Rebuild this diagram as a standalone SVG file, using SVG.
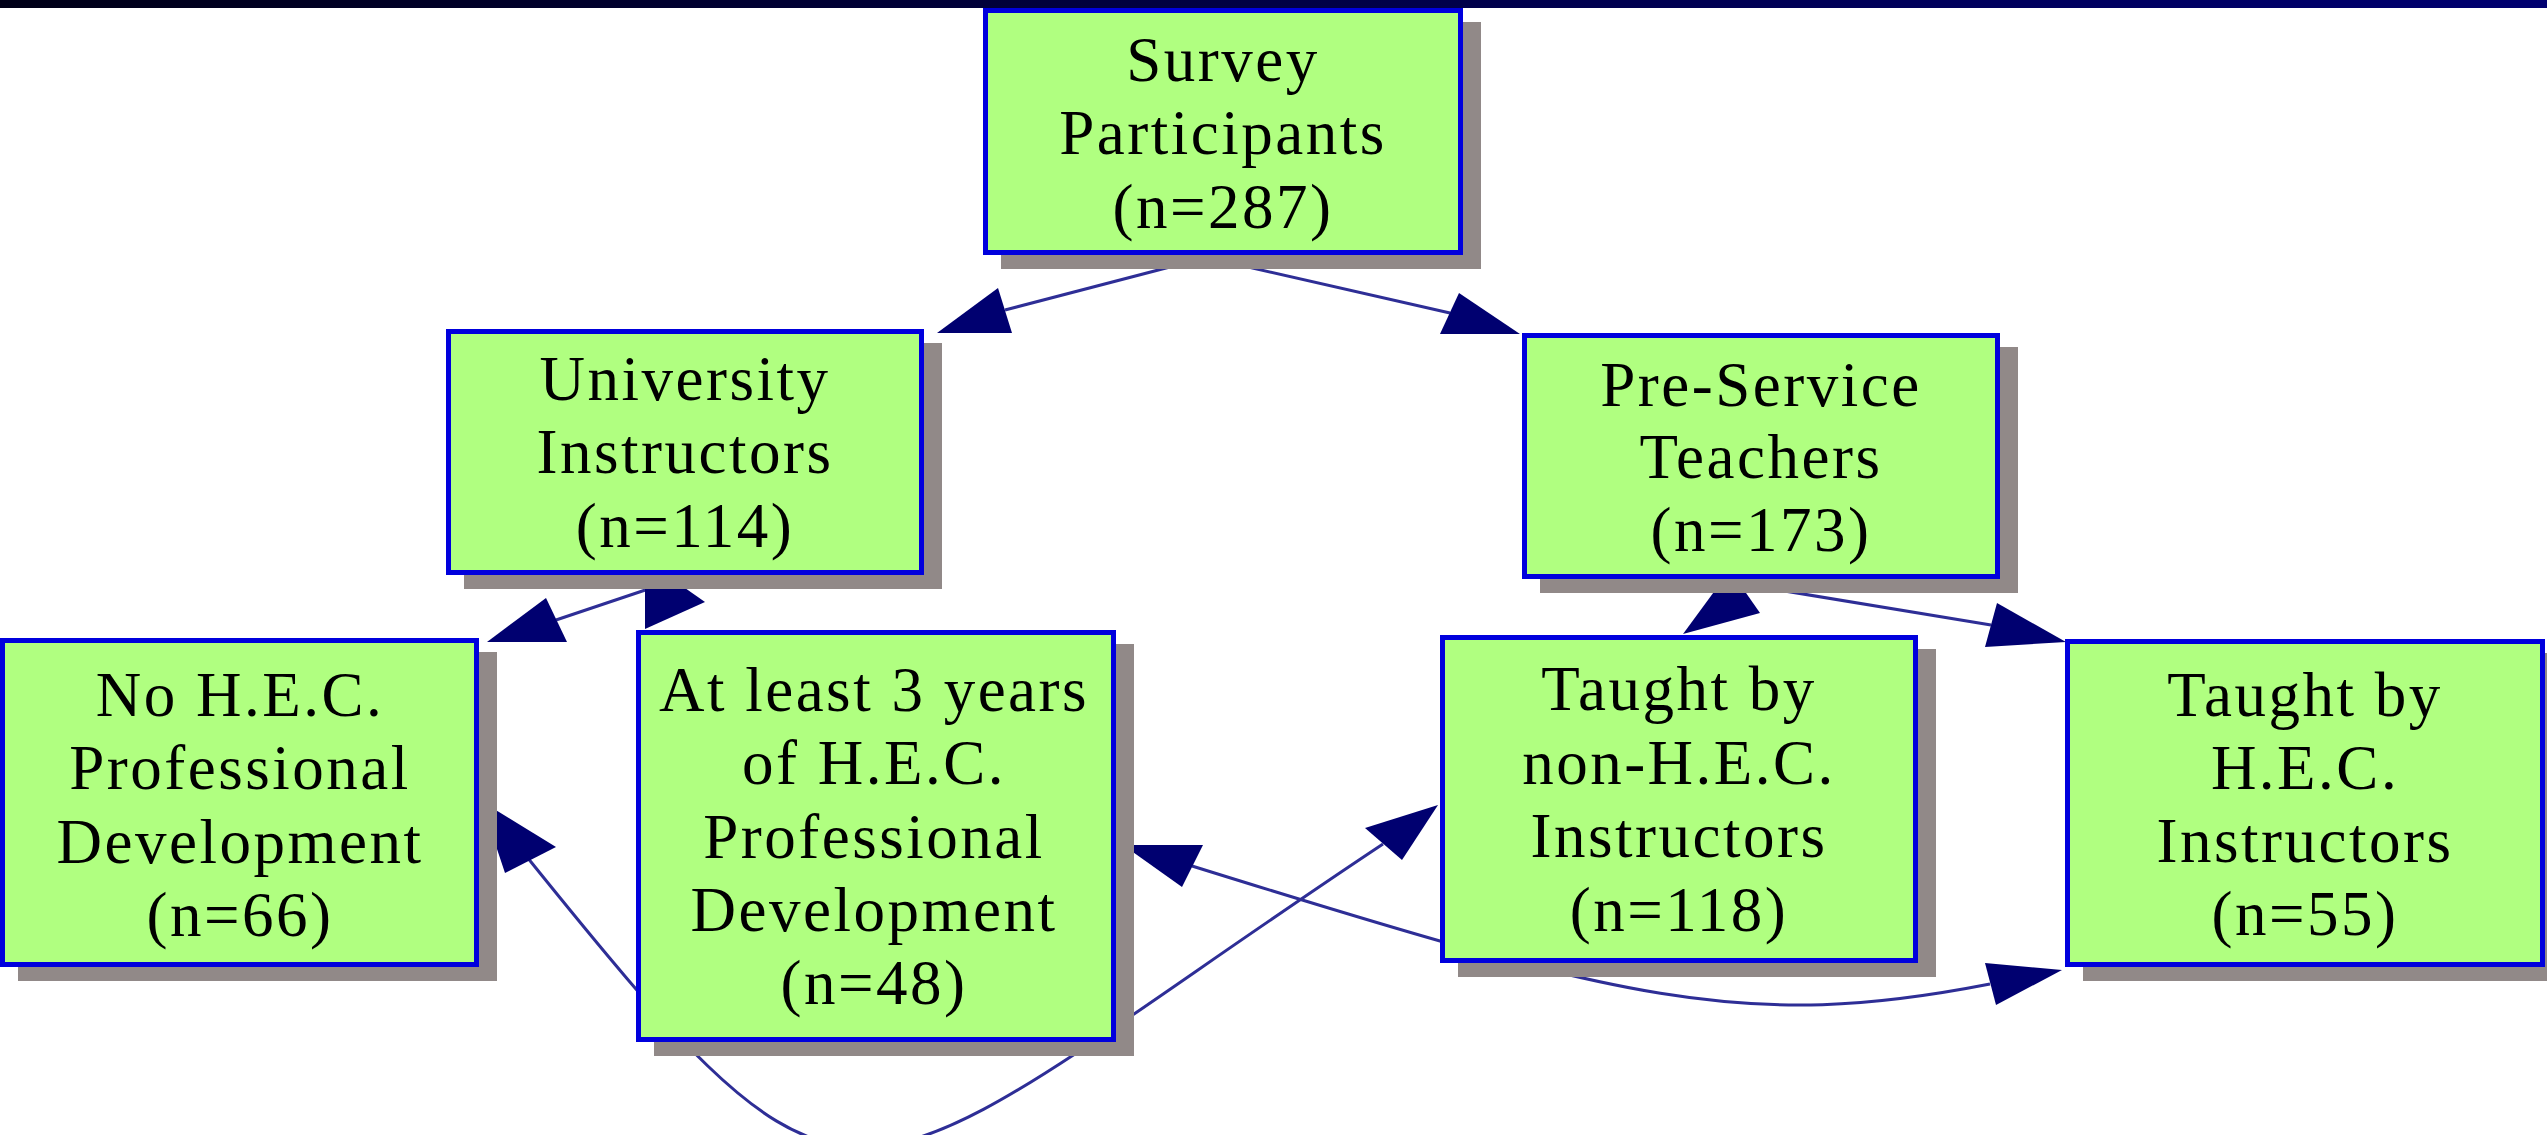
<svg xmlns="http://www.w3.org/2000/svg" width="2547" height="1135" viewBox="0 0 2547 1135">
<defs>
<linearGradient id="bar" x1="0" y1="0" x2="1" y2="0"><stop offset="0" stop-color="#000018"/><stop offset="1" stop-color="#000070"/></linearGradient>
<style>
.shadow{fill:#918988}
.box{fill:#b0ff80;stroke:#0000dd;stroke-width:5}
.lbl{font-family:"Liberation Serif","Times New Roman",serif;font-size:63px;letter-spacing:2.5px;fill:#000;text-anchor:middle}
.conn{fill:none;stroke:#2e2e96;stroke-width:3}
.ah{fill:#000070}
</style>
</defs>
<rect width="2547" height="1135" fill="#fff"/>
<rect x="0" y="0" width="2547" height="8" fill="url(#bar)"/>
<g id="connectors">
<path class="conn" d="M1212,256 L1005,310"/>
<polygon class="ah" points="937,333 998,288 1012,333"/>
<path class="conn" d="M1200,256 L1450,313"/>
<polygon class="ah" points="1520,334 1459,293 1440,334"/>
<path class="conn" d="M690,575 L556,620"/>
<polygon class="ah" points="487,642 546,598 567,642"/>
<path class="conn" d="M690,575 L675,581"/>
<polygon class="ah" points="645,629 705,602 645,560"/>
<path class="conn" d="M1790,575 L1745,591"/>
<polygon class="ah" points="1683,634 1760,613 1730,570"/>
<path class="conn" d="M1712,579 L1991,625"/>
<polygon class="ah" points="2066,642 1997,603 1985,647"/>
<path class="conn" d="M527,857 C871,1284 839,1205 1383,844"/>
<polygon class="ah" points="481,801 556,847 505,873"/>
<polygon class="ah" points="1438,805 1365,828 1402,860"/>
<path class="conn" d="M1192,866 C1622,1000 1745,1032 1990,984"/>
<polygon class="ah" points="1123,845 1203,845 1182,887"/>
<polygon class="ah" points="2062,970 1985,963 1996,1005"/>
</g>
<g id="survey">
<rect class="shadow" x="1001" y="22" width="480" height="247"/>
<rect class="box" x="985.5" y="10.5" width="475" height="242"/>
<text class="lbl"><tspan x="1223" y="81">Survey</tspan><tspan x="1223" y="154">Participants</tspan><tspan x="1223" y="228">(n=287)</tspan></text>
</g>
<g id="university">
<rect class="shadow" x="464" y="343" width="478" height="246"/>
<rect class="box" x="448.5" y="331.5" width="473" height="241"/>
<text class="lbl"><tspan x="685" y="400">University</tspan><tspan x="685" y="473">Instructors</tspan><tspan x="685" y="547">(n=114)</tspan></text>
</g>
<g id="preservice">
<rect class="shadow" x="1540" y="347" width="478" height="246"/>
<rect class="box" x="1524.5" y="335.5" width="473" height="241"/>
<text class="lbl"><tspan x="1761" y="406">Pre-Service</tspan><tspan x="1761" y="478">Teachers</tspan><tspan x="1761" y="551">(n=173)</tspan></text>
</g>
<g id="nohec">
<rect class="shadow" x="18" y="652" width="479" height="329"/>
<rect class="box" x="2.5" y="640.5" width="474" height="324"/>
<text class="lbl"><tspan x="240" y="716">No H.E.C.</tspan><tspan x="240" y="789">Professional</tspan><tspan x="240" y="863">Development</tspan><tspan x="240" y="936">(n=66)</tspan></text>
</g>
<g id="atleast3">
<rect class="shadow" x="654" y="644" width="480" height="412"/>
<rect class="box" x="638.5" y="632.5" width="475" height="407"/>
<text class="lbl"><tspan x="874" y="711">At least 3 years</tspan><tspan x="874" y="784">of H.E.C.</tspan><tspan x="874" y="858">Professional</tspan><tspan x="874" y="931">Development</tspan><tspan x="874" y="1004">(n=48)</tspan></text>
</g>
<g id="nonhec">
<rect class="shadow" x="1458" y="649" width="478" height="328"/>
<rect class="box" x="1442.5" y="637.5" width="473" height="323"/>
<text class="lbl"><tspan x="1679" y="710">Taught by</tspan><tspan x="1679" y="784">non-H.E.C.</tspan><tspan x="1679" y="857">Instructors</tspan><tspan x="1679" y="931">(n=118)</tspan></text>
</g>
<g id="hec">
<rect class="shadow" x="2083" y="653" width="480" height="328"/>
<rect class="box" x="2067.5" y="641.5" width="475" height="323"/>
<text class="lbl"><tspan x="2305" y="716">Taught by</tspan><tspan x="2305" y="789">H.E.C.</tspan><tspan x="2305" y="862">Instructors</tspan><tspan x="2305" y="935">(n=55)</tspan></text>
</g>
</svg>
